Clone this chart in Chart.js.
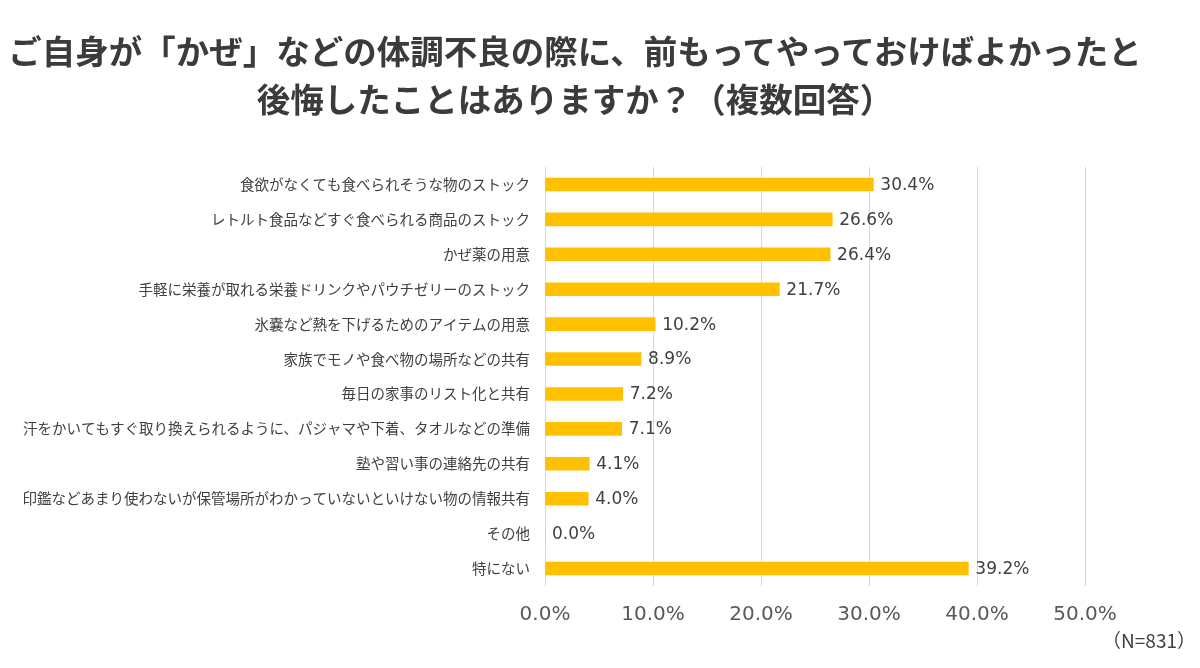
<!DOCTYPE html>
<html>
<head>
<meta charset="utf-8">
<script src="https://cdn.jsdelivr.net/npm/chart.js@4.4.1/dist/chart.umd.min.js"></script>
<style>
  body { margin: 0; background: #fff; }
  #wrap { position: relative; width: 1200px; height: 668px; }
  #title {
    position: absolute; left: 0; top: 26px; width: 1150px;
    text-align: center; font-family: "Noto Sans CJK JP", sans-serif;
    font-weight: 700; font-size: 33.5px; line-height: 48px; color: #3b3b3b;
  }
  #note {
    position: absolute; right: 4px; top: 626px;
    font-family: "Noto Sans CJK JP", sans-serif; font-size: 19px; color: #404040;
  }
  canvas { position: absolute; left: 0; top: 0; }
</style>
</head>
<body>
<div id="wrap">
  <canvas id="chart" width="1200" height="668"></canvas>
  <div id="title">ご自身が「かぜ」などの体調不良の際に、前もってやっておけばよかったと<br>後悔したことはありますか？（複数回答）</div>
  <div id="note">（N=831）</div>
</div>
<script>
var categories = [
    "食欲がなくても食べられそうな物のストック",
    "レトルト食品などすぐ食べられる商品のストック",
    "かぜ薬の用意",
    "手軽に栄養が取れる栄養ドリンクやパウチゼリーのストック",
    "氷嚢など熱を下げるためのアイテムの用意",
    "家族でモノや食べ物の場所などの共有",
    "毎日の家事のリスト化と共有",
    "汗をかいてもすぐ取り換えられるように、パジャマや下着、タオルなどの準備",
    "塾や習い事の連絡先の共有",
    "印鑑などあまり使わないが保管場所がわかっていないといけない物の情報共有",
    "その他",
    "特にない"
];
var percents = [30.4, 26.6, 26.4, 21.7, 10.2, 8.9, 7.2, 7.1, 4.1, 4.0, 0.0, 39.2];
var xTicks = [0, 10, 20, 30, 40, 50];

// value labels at the end of each bar
var valueLabels = {
    id: 'valueLabels',
    afterDatasetsDraw: function(chart) {
        var ctx = chart.ctx;
        var meta = chart.getDatasetMeta(0);
        ctx.save();
        ctx.font = '17px "DejaVu Sans", sans-serif';
        ctx.fillStyle = '#404040';
        ctx.textBaseline = 'middle';
        meta.data.forEach(function(bar, i) {
            ctx.fillText(percents[i].toFixed(1) + '%', bar.x + 7, bar.y + 1);
        });
        ctx.restore();
    }
};

var ctx = document.getElementById("chart");
var chart = new Chart(ctx, {
    type: 'bar',
    data: {
        labels: categories,
        datasets: [{
            data: percents,
            backgroundColor: '#FFC000',
            barThickness: 13
        }]
    },
    options: {
        indexAxis: 'y',
        responsive: false,
        animation: false,
        layout: { padding: { left: 10, right: 115, top: 167, bottom: 24 } },
        plugins: { legend: { display: false }, tooltip: { enabled: false } },
        scales: {
            x: {
                min: 0, max: 50,
                afterBuildTicks: function(s) {
                    s.ticks = xTicks.map(function(v) { return { value: v }; });
                },
                grid: { color: '#d9d9d9', drawTicks: false },
                border: { display: false },
                ticks: {
                    padding: 17,
                    color: '#595959',
                    font: { family: 'DejaVu Sans', size: 20 },
                    callback: function(v) { return v.toFixed(1) + '%'; }
                }
            },
            y: {
                afterFit: function(s) { s.width = 535; },
                grid: { display: false, drawTicks: false },
                border: { display: false },
                ticks: {
                    padding: 15,
                    color: '#404040',
                    font: { family: 'Noto Sans CJK JP', size: 14.5 }
                }
            }
        }
    },
    plugins: [valueLabels]
});
</script>
</body>
</html>
